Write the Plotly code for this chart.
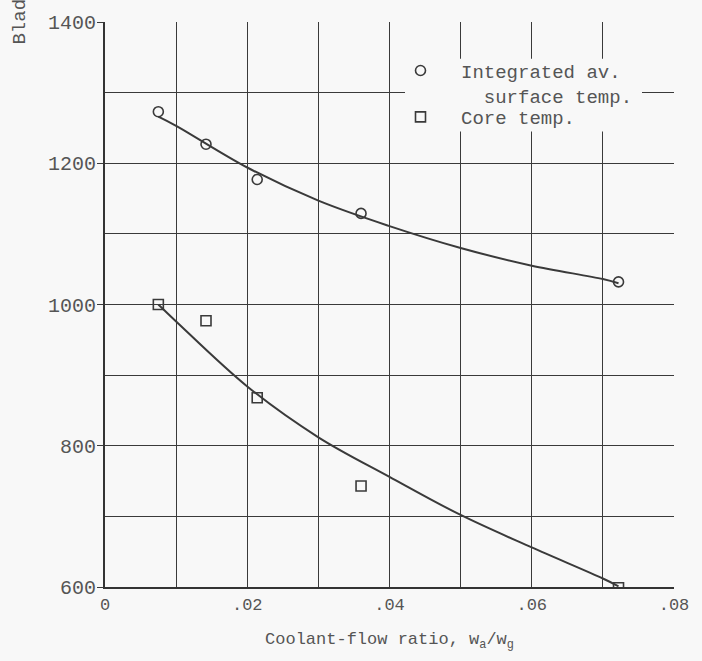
import plotly.graph_objects as go

# Measured points
flow_pts = [0.0075, 0.0142, 0.0214, 0.0360, 0.0722]
surface_temp = [1273, 1227, 1177, 1129, 1032]
core_temp = [1000, 977, 868, 743, 599]

# Faired curves
curve_x = [0.0075, 0.010, 0.020, 0.030, 0.040, 0.050, 0.060, 0.070, 0.0722]
surface_curve = [1266, 1253, 1194, 1147, 1111, 1080, 1055, 1036, 1030]
core_curve = [1000, 976, 884, 812, 756, 702, 656, 612, 601]

x_tickvals = [0, 0.02, 0.04, 0.06, 0.08]
x_ticktext = ["0", ".02", ".04", ".06", ".08"]
y_tickvals = [600, 800, 1000, 1200, 1400]
y_ticktext = ["600", "800", "1000", "1200", "1400"]

FONT = "Liberation Mono, Courier New, monospace"
TXT = "#555555"
LINE = "#3a3a3a"
BG = "#f8f8f8"

W, H = 702, 661
ML, MR, MT, MB = 105, 28, 20, 74
PW, PH = W - ML - MR, H - MT - MB


def px_x(p):
    return (p - ML) / PW


def px_y(p):
    return 1 - (p - MT) / PH


fig = go.Figure()
fig.add_trace(go.Scatter(x=curve_x, y=surface_curve, mode="lines",
                         line=dict(color=LINE, width=2, shape="spline"),
                         showlegend=False, hoverinfo="skip"))
fig.add_trace(go.Scatter(x=curve_x, y=core_curve, mode="lines",
                         line=dict(color=LINE, width=2, shape="spline"),
                         showlegend=False, hoverinfo="skip"))
fig.add_trace(go.Scatter(x=flow_pts, y=surface_temp, mode="markers",
                         name="Integrated av.<br>\u00a0\u00a0surface temp.",
                         legend="legend",
                         marker=dict(symbol="circle-open", size=10, color=LINE,
                                     line=dict(width=1.6, color=LINE))))
fig.add_trace(go.Scatter(x=flow_pts, y=core_temp, mode="markers",
                         name="Core temp.", legend="legend2",
                         marker=dict(symbol="square-open", size=10, color=LINE,
                                     line=dict(width=1.6, color=LINE))))

fig.update_layout(
    width=W, height=H,
    margin=dict(l=ML, r=MR, t=MT, b=MB),
    paper_bgcolor=BG, plot_bgcolor=BG,
    font=dict(family=FONT, size=18, color=TXT),
    legend=dict(x=px_x(380), y=0.9475, xanchor="left", yanchor="top",
                bgcolor="rgba(0,0,0,0)", borderwidth=0, valign="top", itemwidth=71,
                font=dict(size=19, color=TXT)),
    legend2=dict(x=px_x(380), y=0.8655, xanchor="left", yanchor="top",
                 bgcolor="rgba(0,0,0,0)", borderwidth=0, valign="top", itemwidth=71,
                 font=dict(size=19, color=TXT)),
    shapes=[dict(type="rect", xref="paper", yref="paper", layer="above",
                 x0=px_x(405), x1=px_x(642), y0=px_y(130), y1=px_y(57),
                 fillcolor=BG, line=dict(width=0))],
    xaxis=dict(range=[0, 0.08], tickvals=x_tickvals, ticktext=x_ticktext,
               showgrid=True, gridcolor=LINE, gridwidth=1.2,
               minor=dict(tickvals=[0.01, 0.03, 0.05, 0.07], showgrid=True,
                          gridcolor=LINE, gridwidth=1.2),
               showline=True, linecolor="#333333", linewidth=2,
               ticks="", zeroline=False, ticklabelstandoff=1,
               tickfont=dict(size=17),
               title=dict(text="Coolant-flow ratio, w<sub>a</sub>/w<sub>g</sub>",
                          font=dict(size=17), standoff=18)),
    yaxis=dict(range=[600, 1400], tickvals=y_tickvals, ticktext=y_ticktext,
               showgrid=True, gridcolor=LINE, gridwidth=1.2,
               minor=dict(tickvals=[700, 900, 1100, 1300], showgrid=True,
                          gridcolor=LINE, gridwidth=1.2),
               showline=True, linecolor="#333333", linewidth=2,
               ticks="outside", ticklen=6, tickcolor=LINE, tickwidth=1.2,
               zeroline=False, tickfont=dict(size=20), ticklabelstandoff=-3),
    annotations=[dict(text="Blade temperature, \u00b0F", textangle=-90,
                      xref="paper", yref="paper", x=-0.149, y=0.956,
                      xanchor="center", yanchor="bottom", showarrow=False,
                      font=dict(size=19, color=TXT))],
)

fig.write_html("out.html",
               config={"displayModeBar": False},
               post_script="document.body.style.margin='0';"
                           "document.body.style.background='#f8f8f8';")
